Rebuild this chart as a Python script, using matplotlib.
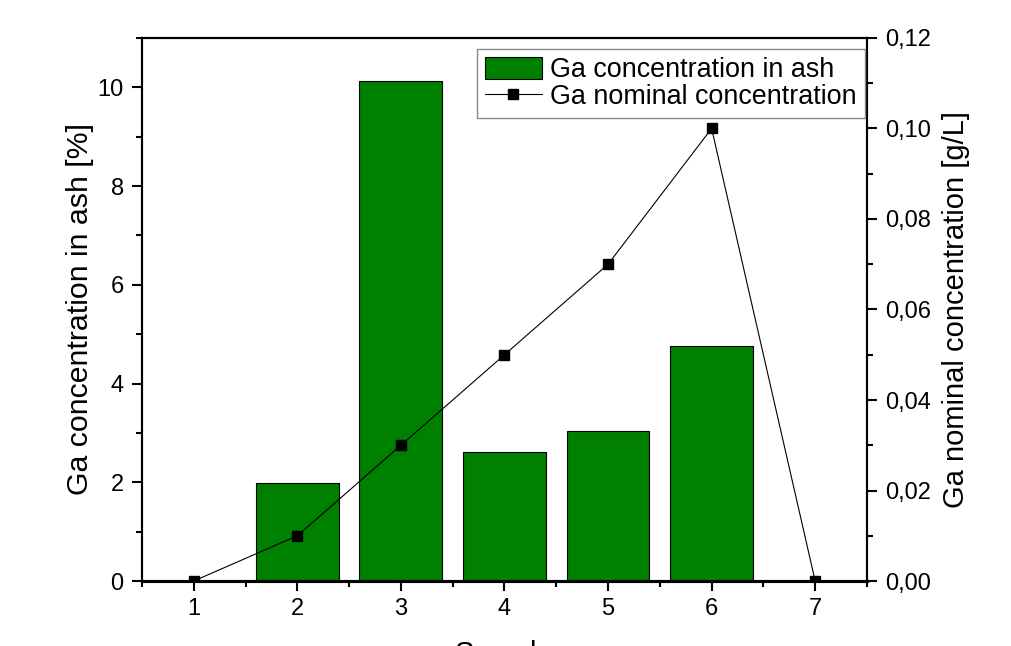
import matplotlib
matplotlib.use("Agg")
import matplotlib.pyplot as plt
from matplotlib.ticker import MultipleLocator, FuncFormatter

plt.rcParams['font.family'] = ['Liberation Sans', 'DejaVu Sans']

samples = [1, 2, 3, 4, 5, 6, 7]
ash_conc = [0.0, 1.98, 10.12, 2.62, 3.04, 4.77, 0.0]
nominal_conc = [0.0, 0.01, 0.03, 0.05, 0.07, 0.10, 0.0]

fig = plt.figure(figsize=(10.12, 6.46), dpi=100)
ax = fig.add_axes([0.1403, 0.1006, 0.7164, 0.8406])
ax2 = ax.twinx()

bars = ax.bar(samples, ash_conc, width=0.8, color='#008000', edgecolor='black',
              linewidth=0.8, label='Ga concentration in ash', zorder=2)
line, = ax2.plot(samples, nominal_conc, color='black', linewidth=0.8, marker='s',
                 markersize=7, label='Ga nominal concentration', zorder=3)

ax.set_xlim(0.5, 7.5)
ax.set_ylim(0, 11)
ax2.set_ylim(0, 0.12)

ax.set_xticks(samples)
ax.xaxis.set_minor_locator(MultipleLocator(0.5))
ax.yaxis.set_major_locator(MultipleLocator(2))
ax.yaxis.set_minor_locator(MultipleLocator(1))
ax2.yaxis.set_major_locator(MultipleLocator(0.02))
ax2.yaxis.set_minor_locator(MultipleLocator(0.01))
ax2.yaxis.set_major_formatter(FuncFormatter(lambda v, p: f"{v:.2f}".replace('.', ',')))

for a in (ax, ax2):
    for s in a.spines.values():
        s.set_linewidth(1.5)
    a.spines['bottom'].set_linewidth(2.2)
    a.tick_params(which='major', direction='out', length=7.2, width=1.5, labelsize=17, pad=6)
    a.tick_params(which='minor', direction='out', length=4.3, width=1.5)

ax.tick_params(axis='x', pad=5)
ax.set_ylabel('Ga concentration in ash [%]', fontsize=21.8)
ax.yaxis.set_label_coords(-0.0655, 0.5)
ax2.set_ylabel('Ga nominal concentration [g/L]', fontsize=21)
ax2.yaxis.set_label_coords(1.103, 0.5)
ax.set_xlabel('Sample', fontsize=21)
ax.xaxis.set_label_coords(0.5, -0.108)

ax.set_zorder(ax2.get_zorder() - 1)
ax.patch.set_visible(True)
ax2.patch.set_visible(False)

leg = ax2.legend([bars, line], ['Ga concentration in ash', 'Ga nominal concentration'],
                 loc='upper right', bbox_to_anchor=(0.9975, 0.98), fontsize=19.4,
                 frameon=True, fancybox=False, framealpha=1, edgecolor='#888888',
                 handlelength=2.1, handleheight=0.9, borderpad=0.3, labelspacing=0.0,
                 handletextpad=0.33, borderaxespad=0.0)
leg.get_frame().set_linewidth(1.0)

fig.savefig('out.png', dpi=100)
